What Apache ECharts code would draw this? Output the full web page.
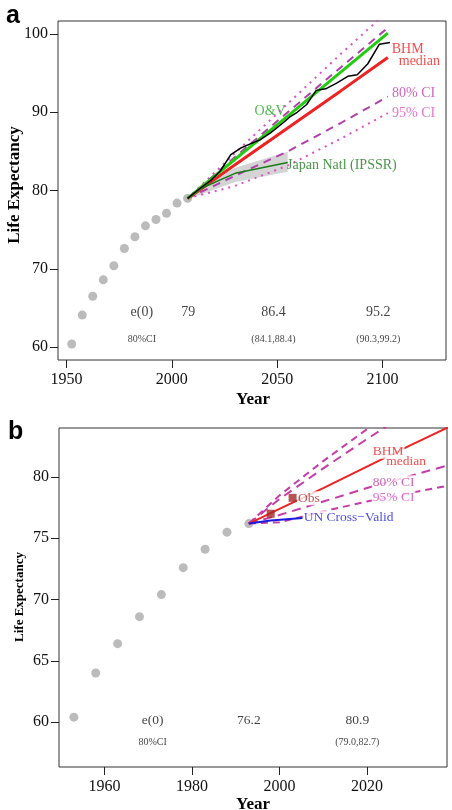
<!DOCTYPE html>
<html>
<head>
<meta charset="utf-8">
<script src="https://cdn.jsdelivr.net/npm/echarts@6/dist/echarts.min.js"></script>
<style>
html,body{margin:0;padding:0;background:#fff}
#chart{width:452px;height:810px}
</style>
</head>
<body>
<div id="chart"></div>
<script>
// ---- panel a : projection from 2007.5 ----
var histYearsA = [1952.5,1957.5,1962.5,1967.5,1972.5,1977.5,1982.5,1987.5,1992.5,1997.5,2002.5,2007.5];
var histA = [60.4,64.1,66.5,68.6,70.4,72.6,74.1,75.5,76.3,77.1,78.4,79.0];

var projYearsA = [2007.5,2030,2055,2080,2102.5];
var medianA = [79.0,83.3,88.0,92.7,97.0];
var ovA = [79.0,84.0,89.5,95.1,100.1];
var up80A = [79.0,84.3,90.0,95.7,100.8];
var lo80A = [79.0,81.9,85.0,88.6,92.0];
var up95A = [79.0,84.8,91.1,97.4,102.9];
var lo95A = [79.0,80.6,83.2,86.6,89.9];

var bestYears = [2007.5,2013,2018.5,2023,2028,2032.5,2037.5,2042,2047,2053,2056,2059.5,2064,2068.5,2073,2078,2083.5,2088,2093,2098.5,2103.5];
var bestVals = [79.0,80.2,81.3,82.5,84.6,85.4,86.0,86.5,87.4,88.7,89.4,90.0,91.0,92.8,93.0,93.7,94.6,94.8,96.2,98.7,98.9];

var japanYears = [2007.5,2014,2030,2055];
var japanVals = [79.0,80.3,82.2,83.6];
var bandYears = [2007.5,2030,2055];
var bandLow = [78.9,81.1,82.4];
var bandHigh = [79.1,82.9,84.95];

var ticksXA = [1950,2000,2050,2100];
var ticksYA = [60,70,80,90,100];

// ---- panel b : cross validation from 1993 ----
var histYearsB = [1953,1958,1963,1968,1973,1978,1983,1988,1993];
var histB = [60.4,64.0,66.4,68.6,70.4,72.6,74.1,75.5,76.2];

var projYearsB = [1993,2000,2010,2020,2030,2040];
var medianB = [76.2,77.4,79.1,80.85,82.6,84.3];
var up95B = [76.2,78.5,81.3,83.9,86.4,88.8];
var up80B = [76.2,78.2,80.7,83.1,85.4,87.7];
var lo80B = [76.2,76.9,78.0,79.1,80.1,81.1];
var lo95B = [76.2,76.3,77.2,78.0,78.7,79.4];

var obsYears = [1998,2003];
var obsVals = [77.0,78.3];
var unYears = [1993,1998,2005.3];
var unVals = [76.2,76.45,76.65];

var ticksXB = [1960,1980,2000,2020];
var ticksYB = [60,65,70,75,80];

var serif = 'Liberation Serif';

function pairs(xs, ys) {
  return xs.map(function (x, i) { return [x, ys[i]]; });
}

function lineSeries(ax, xs, ys, color, width, type, z) {
  return {
    type: 'line', xAxisIndex: ax, yAxisIndex: ax,
    data: pairs(xs, ys), symbol: 'none', silent: true, z: z || 3,
    lineStyle: { color: color, width: width, type: type || 'solid' }
  };
}

// text notes: [x, y, text, color, size, anchor]
var notesA = [
  [2103.9, 98.04, 'BHM', '#ee2222', 14, 'left'],
  [2107.2, 96.46, 'median', '#ee2222', 14, 'left'],
  [2104.0, 92.42, '80% CI', '#c040a8', 14, 'left'],
  [2104.0, 89.86, '95% CI', '#e050c8', 14, 'left'],
  [2054.5, 90.07, 'O&V', '#22aa22', 14, 'right'],
  [2054.2, 83.17, 'Japan Natl (IPSSR)', '#1a7a1a', 14, 'left'],
  [1985.8, 64.43, 'e(0)', '#111', 14, 'center'],
  [2007.8, 64.43, '79', '#111', 14, 'center'],
  [2048.2, 64.43, '86.4', '#111', 14, 'center'],
  [2098.0, 64.43, '95.2', '#111', 14, 'center'],
  [1985.8, 60.98, '80%CI', '#111', 10, 'center'],
  [2048.2, 60.98, '(84.1,88.4)', '#111', 10, 'center'],
  [2098.0, 60.98, '(90.3,99.2)', '#111', 10, 'center']
];
var notesB = [
  [2021.1, 82.07, 'BHM', '#ee2222', 13.5, 'left'],
  [2024.2, 81.25, 'median', '#ee2222', 13.5, 'left'],
  [2021.1, 79.57, '80% CI', '#c040a8', 13.5, 'left'],
  [2021.1, 78.34, '95% CI', '#d048c0', 13.5, 'left'],
  [2004.0, 78.26, 'Obs', '#a52a2a', 13.5, 'left'],
  [2005.3, 76.71, 'UN Cross\u2212Valid', '#1a1adc', 13.5, 'left'],
  [1971.0, 60.16, 'e(0)', '#111', 13.5, 'center'],
  [1993.0, 60.16, '76.2', '#111', 13.5, 'center'],
  [2017.8, 60.16, '80.9', '#111', 13.5, 'center'],
  [1971.0, 58.3, '80%CI', '#111', 10, 'center'],
  [2017.8, 58.3, '(79.0,82.7)', '#111', 10, 'center']
];

function noteSeries(ax, notes, bg) {
  return {
    type: 'scatter', xAxisIndex: ax, yAxisIndex: ax, symbolSize: 0, silent: true, z: 10,
    data: notes.map(function (n) {
      var pos = n[5] === 'left' ? 'right' : (n[5] === 'right' ? 'left' : 'inside');
      return {
        value: [n[0], n[1]],
        label: {
          show: true, position: pos, distance: 0, formatter: n[2],
          color: n[3], fontSize: n[4], fontFamily: serif,
          backgroundColor: n[5] === 'center' ? 'transparent' : bg,
          padding: [0, 1]
        }
      };
    })
  };
}

function plain(v) { return String(v); }

function xAxisCfg(grid, min, max, ticks) {
  return {
    type: 'value', gridIndex: grid, min: min, max: max,
    axisLine: { show: false },
    splitLine: { show: false },
    axisTick: { show: true, inside: false, length: 8, customValues: ticks, lineStyle: { color: '#222', width: 1 } },
    axisLabel: { customValues: ticks, formatter: plain, fontFamily: serif, fontSize: 16, color: '#111', margin: 12 }
  };
}
function yAxisCfg(grid, min, max, ticks) {
  return {
    type: 'value', gridIndex: grid, min: min, max: max,
    axisLine: { show: false },
    splitLine: { show: false },
    axisTick: { show: true, inside: false, length: 8, customValues: ticks, lineStyle: { color: '#222', width: 1 } },
    axisLabel: { customValues: ticks, formatter: plain, fontFamily: serif, fontSize: 16, color: '#111', margin: 10 }
  };
}

var bandSeries = {
  type: 'custom', xAxisIndex: 0, yAxisIndex: 0, silent: true, z: 1,
  data: [[bandYears[0], bandLow[0]]],
  renderItem: function (params, api) {
    var pts = [];
    for (var i = 0; i < bandYears.length; i++) pts.push(api.coord([bandYears[i], bandHigh[i]]));
    for (var j = bandYears.length - 1; j >= 0; j--) pts.push(api.coord([bandYears[j], bandLow[j]]));
    return { type: 'polygon', shape: { points: pts }, style: { fill: '#d4d4d4' } };
  }
};

var option = {
  animation: false,
  backgroundColor: '#fff',
  grid: [
    { left: 58, top: 21, width: 388, height: 339, show: true, borderColor: '#333', borderWidth: 1 },
    { left: 59, top: 428, width: 388, height: 339, show: true, borderColor: '#333', borderWidth: 1 }
  ],
  xAxis: [
    xAxisCfg(0, 1946.0, 2130.1, ticksXA),
    xAxisCfg(1, 1949.6, 2038.3, ticksXB)
  ],
  yAxis: [
    yAxisCfg(0, 58.36, 101.66, ticksYA),
    yAxisCfg(1, 56.33, 84.0, ticksYB)
  ],
  graphic: [
    { type: 'text', left: 6, top: 4, style: { text: 'a', font: 'bold 25px "Liberation Sans"', fill: '#000' } },
    { type: 'text', left: 8, top: 420, style: { text: 'b', font: 'bold 25px "Liberation Sans"', fill: '#000' } },
    { type: 'text', x: 15, y: 185, rotation: Math.PI / 2,
      style: { text: 'Life Expectancy', font: 'bold 17px "Liberation Serif"', fill: '#000', align: 'center', verticalAlign: 'middle' } },
    { type: 'text', x: 20, y: 597, rotation: Math.PI / 2,
      style: { text: 'Life Expectancy', font: 'bold 13px "Liberation Serif"', fill: '#000', align: 'center', verticalAlign: 'middle' } },
    { type: 'text', x: 253, y: 400,
      style: { text: 'Year', font: 'bold 17px "Liberation Serif"', fill: '#000', align: 'center', verticalAlign: 'middle' } },
    { type: 'text', x: 253, y: 805,
      style: { text: 'Year', font: 'bold 17px "Liberation Serif"', fill: '#000', align: 'center', verticalAlign: 'middle' } }
  ],
  series: [
    // panel a
    bandSeries,
    { type: 'scatter', xAxisIndex: 0, yAxisIndex: 0, data: pairs(histYearsA, histA), symbolSize: 9,
      itemStyle: { color: '#aaaaaa' }, silent: true, z: 2 },
    lineSeries(0, projYearsA, up95A, '#e050c8', 2, [2, 5]),
    lineSeries(0, projYearsA, lo95A, '#e050c8', 2, [2, 5]),
    lineSeries(0, projYearsA, up80A, '#b040a8', 2, [8, 6]),
    lineSeries(0, projYearsA, lo80A, '#b040a8', 2, [8, 6]),
    lineSeries(0, projYearsA, medianA, '#ee2222', 3),
    lineSeries(0, projYearsA, ovA, '#22cc11', 3),
    lineSeries(0, japanYears, japanVals, '#1a7a1a', 1.5),
    lineSeries(0, bestYears, bestVals, '#000000', 1.5, 'solid', 4),
    noteSeries(0, notesA, 'transparent'),
    // panel b
    { type: 'scatter', xAxisIndex: 1, yAxisIndex: 1, data: pairs(histYearsB, histB), symbolSize: 9,
      itemStyle: { color: '#aaaaaa' }, silent: true, z: 2 },
    lineSeries(1, projYearsB, up95B, '#c43ca8', 2, [7, 5]),
    lineSeries(1, projYearsB, up80B, '#c43ca8', 2, [9, 6]),
    lineSeries(1, projYearsB, lo80B, '#c43ca8', 2, [9, 6]),
    lineSeries(1, projYearsB, lo95B, '#c43ca8', 2, [7, 5]),
    lineSeries(1, projYearsB, medianB, '#ee2222', 2),
    lineSeries(1, unYears, unVals, '#1a1adc', 2),
    { type: 'scatter', xAxisIndex: 1, yAxisIndex: 1, data: pairs(obsYears, obsVals), symbol: 'rect', symbolSize: 8,
      itemStyle: { color: '#a52a2a' }, silent: true, z: 5 },
    noteSeries(1, notesB, '#ffffff')
  ]
};

var myChart = echarts.init(document.getElementById('chart'));
myChart.setOption(option);
</script>
</body>
</html>
